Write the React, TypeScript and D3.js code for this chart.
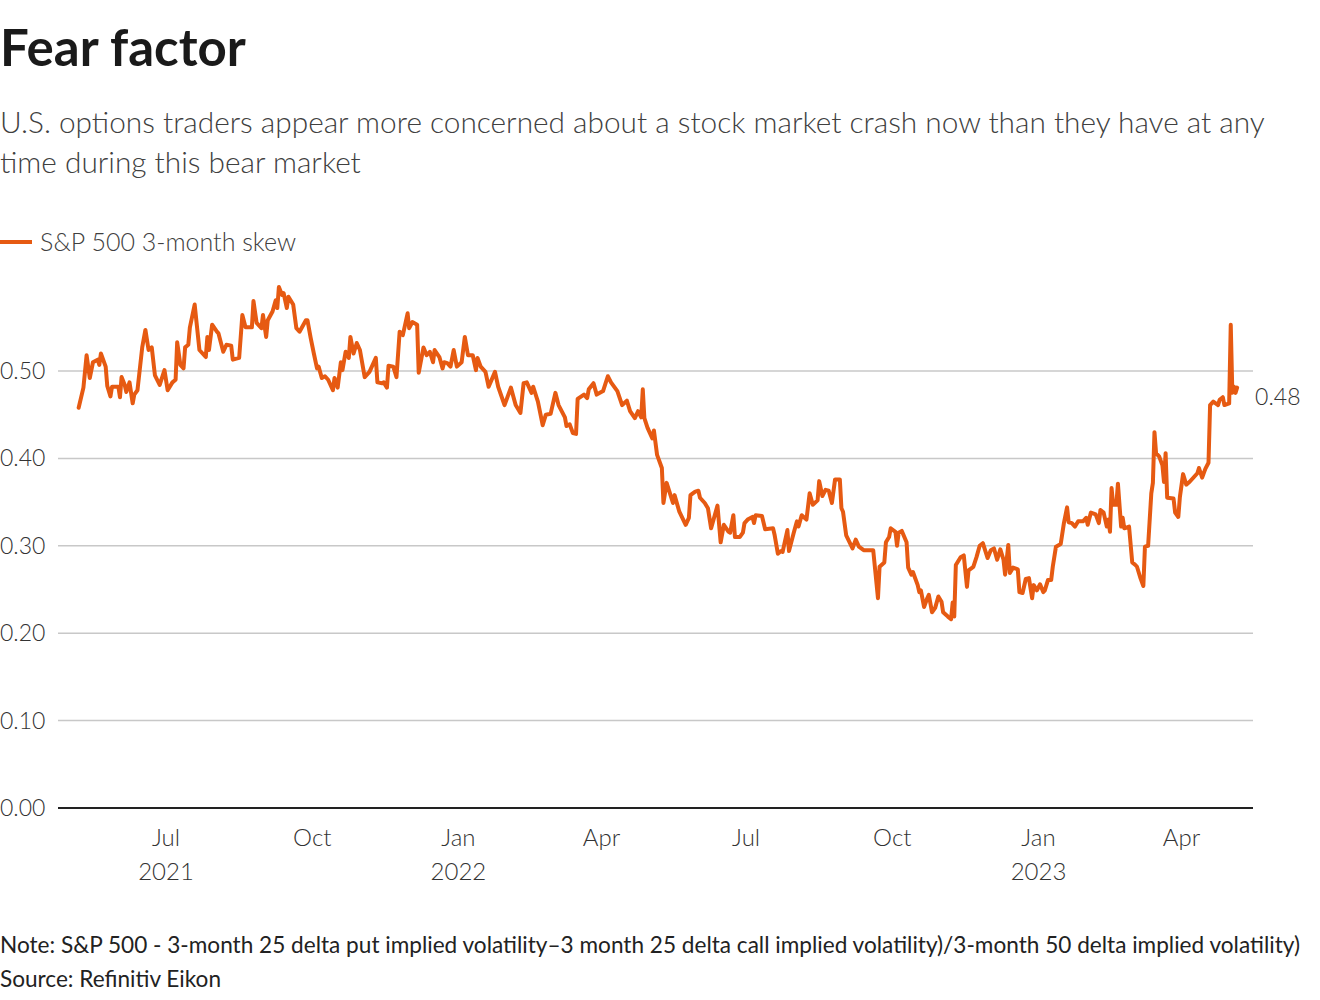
import React from 'react';
import * as d3 from 'd3';

// S&P 500 3-month skew
const dates = [
  '2021-05-07','2021-05-10','2021-05-12','2021-05-14','2021-05-16','2021-05-19','2021-05-20','2021-05-21','2021-05-24','2021-05-25',
  '2021-05-27','2021-05-28','2021-06-01','2021-06-02','2021-06-03','2021-06-05','2021-06-06','2021-06-08','2021-06-10','2021-06-11',
  '2021-06-13','2021-06-16','2021-06-18','2021-06-20','2021-06-22','2021-06-24','2021-06-27','2021-06-30','2021-07-02','2021-07-05',
  '2021-07-07','2021-07-08','2021-07-10','2021-07-12','2021-07-13','2021-07-15','2021-07-16','2021-07-19','2021-07-22','2021-07-26',
  '2021-07-27','2021-07-28','2021-07-30','2021-08-02','2021-08-03','2021-08-06','2021-08-08','2021-08-11','2021-08-12','2021-08-16',
  '2021-08-18','2021-08-20','2021-08-24','2021-08-25','2021-08-27','2021-08-30','2021-08-31','2021-09-02','2021-09-03','2021-09-06',
  '2021-09-08','2021-09-09','2021-09-10','2021-09-12','2021-09-13','2021-09-15','2021-09-16','2021-09-19','2021-09-21','2021-09-23',
  '2021-09-27','2021-09-28','2021-09-30','2021-10-02','2021-10-04','2021-10-05','2021-10-07','2021-10-09','2021-10-11','2021-10-14',
  '2021-10-15','2021-10-17','2021-10-19','2021-10-20','2021-10-22','2021-10-24','2021-10-25','2021-10-27','2021-10-29','2021-10-31',
  '2021-11-03','2021-11-06','2021-11-10','2021-11-11','2021-11-14','2021-11-15','2021-11-17','2021-11-18','2021-11-21','2021-11-23',
  '2021-11-25','2021-11-27','2021-11-30','2021-12-01','2021-12-03','2021-12-06','2021-12-07','2021-12-10','2021-12-12','2021-12-14',
  '2021-12-16','2021-12-17','2021-12-20','2021-12-22','2021-12-23','2021-12-25','2021-12-27','2021-12-29','2021-12-31','2022-01-03',
  '2022-01-05','2022-01-07','2022-01-10','2022-01-12','2022-01-13','2022-01-15','2022-01-18','2022-01-20','2022-01-24','2022-01-26',
  '2022-01-30','2022-02-03','2022-02-06','2022-02-09','2022-02-11','2022-02-13','2022-02-16','2022-02-17','2022-02-20','2022-02-23',
  '2022-02-25','2022-02-28','2022-03-03','2022-03-05','2022-03-09','2022-03-10','2022-03-12','2022-03-14','2022-03-16','2022-03-17',
  '2022-03-21','2022-03-23','2022-03-24','2022-03-27','2022-03-29','2022-03-31','2022-04-02','2022-04-05','2022-04-07','2022-04-11',
  '2022-04-14','2022-04-17','2022-04-19','2022-04-22','2022-04-24','2022-04-26','2022-04-27','2022-04-28','2022-04-30','2022-05-03',
  '2022-05-04','2022-05-06','2022-05-09','2022-05-10','2022-05-12','2022-05-16','2022-05-17','2022-05-20','2022-05-24','2022-05-26',
  '2022-05-27','2022-05-30','2022-06-01','2022-06-02','2022-06-05','2022-06-07','2022-06-09','2022-06-13','2022-06-15','2022-06-17',
  '2022-06-20','2022-06-21','2022-06-23','2022-06-24','2022-06-27','2022-06-29','2022-06-30','2022-07-02','2022-07-05','2022-07-06',
  '2022-07-07','2022-07-11','2022-07-13','2022-07-18','2022-07-19','2022-07-21','2022-07-23','2022-07-24','2022-07-27','2022-07-28',
  '2022-07-31','2022-08-02','2022-08-03','2022-08-05','2022-08-08','2022-08-10','2022-08-12','2022-08-15','2022-08-16','2022-08-18',
  '2022-08-20','2022-08-22','2022-08-24','2022-08-26','2022-08-29','2022-08-30','2022-08-31','2022-09-02','2022-09-06','2022-09-08',
  '2022-09-10','2022-09-13','2022-09-19','2022-09-22','2022-09-23','2022-09-26','2022-09-27','2022-09-29','2022-09-30','2022-10-03',
  '2022-10-04','2022-10-05','2022-10-07','2022-10-10','2022-10-11','2022-10-13','2022-10-14','2022-10-17','2022-10-18','2022-10-19',
  '2022-10-21','2022-10-23','2022-10-24','2022-10-26','2022-10-28','2022-10-30','2022-11-01','2022-11-02','2022-11-05','2022-11-07',
  '2022-11-08','2022-11-09','2022-11-10','2022-11-13','2022-11-15','2022-11-17','2022-11-18','2022-11-21','2022-11-23','2022-11-25',
  '2022-11-27','2022-11-30','2022-12-02','2022-12-04','2022-12-06','2022-12-08','2022-12-10','2022-12-11','2022-12-13','2022-12-14',
  '2022-12-16','2022-12-19','2022-12-20','2022-12-22','2022-12-24','2022-12-26','2022-12-28','2022-12-29','2022-12-31','2023-01-02',
  '2023-01-04','2023-01-05','2023-01-07','2023-01-09','2023-01-10','2023-01-12','2023-01-15','2023-01-17','2023-01-19','2023-01-20',
  '2023-01-22','2023-01-24','2023-01-26','2023-01-29','2023-01-31','2023-02-01','2023-02-03','2023-02-06','2023-02-08','2023-02-09',
  '2023-02-11','2023-02-13','2023-02-14','2023-02-15','2023-02-16','2023-02-17','2023-02-19','2023-02-20','2023-02-22','2023-02-23',
  '2023-02-24','2023-02-27','2023-03-01','2023-03-03','2023-03-04','2023-03-06','2023-03-08','2023-03-09','2023-03-11','2023-03-13',
  '2023-03-14','2023-03-15','2023-03-16','2023-03-18','2023-03-20','2023-03-21','2023-03-22','2023-03-23','2023-03-27','2023-03-28',
  '2023-03-30','2023-03-31','2023-04-02','2023-04-04','2023-04-06','2023-04-09','2023-04-11','2023-04-12','2023-04-14','2023-04-16',
  '2023-04-18','2023-04-19','2023-04-21','2023-04-24','2023-04-25','2023-04-27','2023-04-28','2023-05-01','2023-05-02','2023-05-03',
  '2023-05-04','2023-05-05','2023-05-06',
];

const skew = [
  0.458,0.481,0.518,0.492,0.510,0.513,0.507,0.520,0.505,0.483,
  0.471,0.482,0.482,0.470,0.493,0.484,0.476,0.487,0.463,0.473,
  0.478,0.527,0.547,0.524,0.527,0.495,0.484,0.501,0.478,0.487,
  0.490,0.533,0.507,0.503,0.527,0.530,0.550,0.576,0.524,0.516,
  0.539,0.524,0.553,0.545,0.543,0.522,0.530,0.529,0.513,0.515,
  0.564,0.550,0.550,0.580,0.555,0.549,0.564,0.539,0.558,0.568,
  0.581,0.572,0.596,0.587,0.589,0.572,0.585,0.576,0.549,0.545,
  0.558,0.558,0.538,0.520,0.503,0.505,0.492,0.494,0.490,0.478,
  0.492,0.481,0.510,0.501,0.522,0.515,0.539,0.520,0.532,0.524,
  0.493,0.499,0.515,0.487,0.486,0.487,0.481,0.506,0.505,0.493,
  0.545,0.541,0.566,0.549,0.556,0.553,0.498,0.527,0.518,0.522,
  0.510,0.524,0.516,0.503,0.510,0.509,0.505,0.524,0.505,0.510,
  0.539,0.518,0.518,0.501,0.515,0.505,0.499,0.482,0.499,0.482,
  0.461,0.481,0.461,0.452,0.486,0.487,0.475,0.482,0.465,0.438,
  0.450,0.451,0.475,0.461,0.447,0.437,0.439,0.429,0.428,0.468,
  0.473,0.469,0.479,0.486,0.473,0.475,0.477,0.494,0.487,0.477,
  0.461,0.466,0.454,0.446,0.454,0.447,0.479,0.446,0.435,0.423,
  0.432,0.404,0.389,0.349,0.372,0.349,0.358,0.339,0.324,0.332,
  0.358,0.362,0.363,0.355,0.349,0.343,0.320,0.346,0.304,0.324,
  0.316,0.315,0.335,0.310,0.310,0.315,0.326,0.330,0.333,0.326,
  0.335,0.334,0.319,0.320,0.312,0.291,0.294,0.293,0.318,0.294,
  0.315,0.328,0.322,0.335,0.330,0.360,0.347,0.352,0.374,0.357,
  0.364,0.363,0.349,0.376,0.376,0.343,0.339,0.312,0.297,0.307,
  0.299,0.295,0.295,0.240,0.276,0.281,0.304,0.310,0.320,0.316,
  0.300,0.315,0.317,0.304,0.275,0.267,0.270,0.255,0.247,0.249,
  0.230,0.240,0.244,0.224,0.229,0.242,0.236,0.224,0.219,0.216,
  0.235,0.219,0.278,0.287,0.289,0.253,0.272,0.276,0.287,0.300,
  0.303,0.286,0.295,0.297,0.284,0.296,0.284,0.267,0.301,0.269,
  0.275,0.273,0.247,0.246,0.262,0.263,0.240,0.255,0.249,0.256,
  0.247,0.249,0.261,0.261,0.276,0.299,0.302,0.326,0.344,0.327,
  0.326,0.322,0.328,0.328,0.332,0.324,0.338,0.336,0.326,0.341,
  0.338,0.322,0.330,0.316,0.366,0.347,0.347,0.371,0.322,0.332,
  0.320,0.322,0.281,0.278,0.276,0.264,0.254,0.299,0.300,0.360,
  0.372,0.430,0.406,0.402,0.392,0.373,0.406,0.355,0.354,0.338,
  0.333,0.356,0.382,0.370,0.373,0.379,0.383,0.389,0.378,0.388,
  0.395,0.461,0.465,0.461,0.467,0.470,0.461,0.463,0.553,0.475,
  0.482,0.475,0.481,
];

const yTicks = [0, 0.1, 0.2, 0.3, 0.4, 0.5];
const xTicks = ['2021-07-01','2021-10-01','2022-01-01','2022-04-01','2022-07-01','2022-10-01','2023-01-01','2023-04-01'];
const monthLabels = ['Jul','Oct','Jan','Apr','Jul','Oct','Jan','Apr'];
const yearLabels = ['2021','','2022','','','','2023',''];
const lastLabel = '0.48';

const W = 1320;
const H = 1000;
const ORANGE = '#e65a12';
const FONT = 'Lato, "Noto Sans", sans-serif';

const parse = d3.timeParse('%Y-%m-%d');

export default function App() {
  const data = dates.map((d, i) => ({ date: parse(d) as Date, value: skew[i] }));

  const x = d3.scaleTime()
    .domain([parse('2021-04-24') as Date, parse('2023-05-16') as Date])
    .range([58, 1253]);
  const y = d3.scaleLinear().domain([0, 0.6]).range([808, 283.6]);

  const line = d3.line<{ date: Date; value: number }>()
    .x(d => x(d.date))
    .y(d => y(d.value));

  const last = data[data.length - 1];

  return (
    <svg width={W} height={H} style={{ position: 'absolute', left: 0, top: 0, background: '#fff' }}
      fontFamily={FONT}>
      <text x={0} y={66} fontSize={51} fontWeight={700} fill="#1a1a1a">Fear factor</text>
      <text x={0} y={133} fontSize={29.8} fontWeight={300} fill="#404040">
        U.S. options traders appear more concerned about a stock market crash now than they have at any
      </text>
      <text x={0} y={173} fontSize={29.8} fontWeight={300} fill="#404040">time during this bear market</text>

      <line x1={0} x2={32} y1={242} y2={242} stroke={ORANGE} strokeWidth={4} />
      <text x={40} y={251} fontSize={25} fontWeight={300} fill="#404040">S&amp;P 500 3-month skew</text>

      {yTicks.map(t => (
        <g key={t}>
          {t > 0 && <line x1={58} x2={1253} y1={y(t)} y2={y(t)} stroke="#c8c8c8" strokeWidth={1.5} />}
          <text x={0} y={y(t)} dy="0.35em" fontSize={23} fontWeight={300} fill="#333">{d3.format('.2f')(t)}</text>
        </g>
      ))}

      <line x1={58} x2={1253} y1={y(0)} y2={y(0)} stroke="#222" strokeWidth={2} />

      {xTicks.map((t, i) => {
        const px = x(parse(t) as Date);
        return (
          <g key={t}>
            <text x={px} y={846} textAnchor="middle" fontSize={24} fontWeight={300} fill="#333">{monthLabels[i]}</text>
            {yearLabels[i] && (
              <text x={px} y={880} textAnchor="middle" fontSize={24} fontWeight={300} fill="#333">{yearLabels[i]}</text>
            )}
          </g>
        );
      })}

      <path d={line(data) || ''} fill="none" stroke={ORANGE} strokeWidth={4} strokeLinejoin="round" strokeLinecap="round" />

      <text x={x(last.date) + 18} y={y(last.value) + 9} dy="0.35em" fontSize={23} fontWeight={300} fill="#333">{lastLabel}</text>

      <text x={0} y={953} fontSize={22.6} fontWeight={400} fill="#222">
        Note: S&amp;P 500 - 3-month 25 delta put implied volatility–3 month 25 delta call implied volatility)/3-month 50 delta implied volatility)
      </text>
      <text x={0} y={987} fontSize={22.6} fontWeight={400} fill="#222">Source: Refinitiv Eikon</text>
    </svg>
  );
}
